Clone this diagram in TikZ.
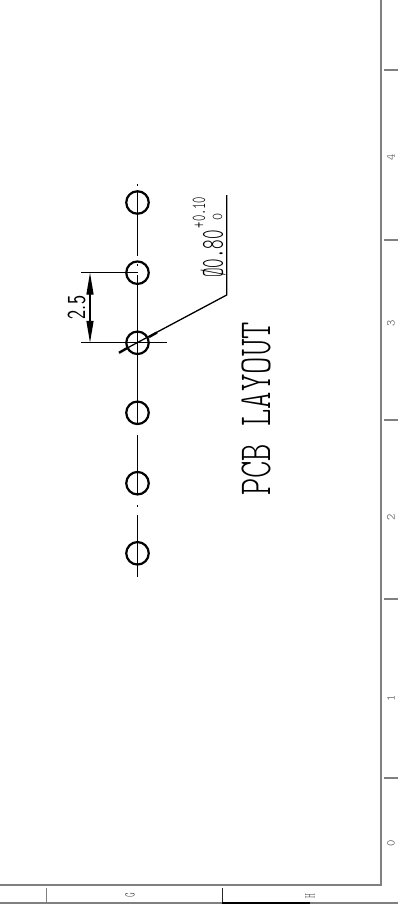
\documentclass[tikz,border=0pt]{standalone}
\usetikzlibrary{arrows.meta}
\definecolor{framegray}{gray}{0.5}
\definecolor{labelgray}{gray}{0.25}
\tikzset{
  hole/.style={circle,draw=black,line width=2.2pt,minimum size=22.5pt,inner sep=0pt},
  center/.style={line width=1.3pt,black},
  dimline/.style={line width=1.3pt,black},
  framel/.style={line width=2pt,framegray},
  tickl/.style={line width=1.3pt,framegray},
  ticktext/.style={rotate=90,inner sep=0pt,font=\fontsize{12}{12}\selectfont\ttfamily\fontseries{l}\selectfont,labelgray},
  bandtext/.style={rotate=90,inner sep=0pt,xscale=0.6,font=\fontsize{15}{15}\selectfont\ttfamily\fontseries{l}\selectfont,labelgray},
  title/.style={rotate=90,inner sep=0pt,xscale=0.72,font=\fontsize{46}{46}\selectfont\ttfamily\fontseries{l}\selectfont},
  dimtext/.style={rotate=90,inner sep=0pt}
}
\begin{document}
\begin{tikzpicture}[x=1pt,y=-1pt]
\useasboundingbox (0,0) rectangle (398,910);
\fill[white] (0,0) rectangle (398,910);
% frame
\draw[framel] (381,0) -- (381,885) -- (0,885);
\foreach \y in {70,240,420,599,778} \draw[tickl] (384,\y) -- (398,\y);
\draw[tickl] (46.5,888) -- (46.5,903);
\draw[line width=1.3pt,black!85] (222.5,888) -- (222.5,903);
\draw[tickl] (0,903) -- (222,903);
\draw[line width=1.3pt,black] (222,903) -- (310,903);
\draw[tickl] (310,903) -- (398,903);
\node[ticktext] (n4) at (391,157) {4};
\node[ticktext] (n3) at (391,323) {3};
\node[ticktext] (n2) at (391,517) {2};
\node[ticktext] (n1) at (391,698) {1};
\node[ticktext] (n0) at (391,843) {0};
\node[bandtext] (lg) at (130,895.5) {G};
\node[bandtext] (lh) at (310,896.5) {H};
% holes
\node[hole] (h1) at (137.5,202.5) {};
\node[hole] (h2) at (137.5,272.7) {};
\node[hole] (h3) at (137.5,342.8) {};
\node[hole] (h4) at (137.5,412.8) {};
\node[hole] (h5) at (137.5,483.2) {};
\node[hole] (h6) at (137.5,553.3) {};
% centre line
\draw[center] (137.5,184) -- (137.5,186);
\draw[center] (137.5,190) -- (137.5,256);
\draw[center] (137.5,264) -- (137.5,266);
\draw[center] (137.5,275) -- (137.5,425);
\draw[center] (137.5,435) -- (137.5,495);
\draw[center] (137.5,505) -- (137.5,507);
\draw[center] (137.5,515) -- (137.5,576.5);
% dimension 2.5
\coordinate (e1) at (81,272.7);
\coordinate (e2) at (81,342.8);
\coordinate (e3) at (167,342.8);
\coordinate (d1) at (90,272.7);
\coordinate (d2) at (90,342.8);
\draw[dimline] (e1) -- (137.5,272.7);
\draw[dimline] (e2) -- (e3);
\draw[dimline,{Triangle[length=22pt,width=7pt]}-{Triangle[length=22pt,width=7pt]}] (d1) -- (d2);
\node[dimtext,xscale=0.75,font=\fontsize{26}{26}\selectfont\sffamily] (dimv) at (76.5,307.5) {2.5};
% leader
\coordinate (l0) at (119,352.8);
\coordinate (l1) at (128,347.6);
\coordinate (l2) at (226.7,295);
\coordinate (l3) at (226.7,195);
\draw[line width=2.4pt] (l0) -- (l1);
\draw[dimline] (l1) -- (l2) -- (l3);
\draw[line width=2.4pt] (149,337) -- (157,332.5);
\node[dimtext,xscale=0.57,font=\fontsize{32}{32}\selectfont\ttfamily\fontseries{l}\selectfont] (dia) at (213,254) {\O0.80};
\node[dimtext,xscale=0.6,font=\fontsize{20}{20}\selectfont\ttfamily\fontseries{l}\selectfont] (tolu) at (199,212.5) {+0.10};
\node[dimtext,xscale=0.9,font=\fontsize{15}{15}\selectfont\ttfamily\fontseries{l}\selectfont] (toll) at (217.5,216.5) {0};
\node[title] (t) at (256,409) {PCB LAYOUT};
\end{tikzpicture}
\end{document}
